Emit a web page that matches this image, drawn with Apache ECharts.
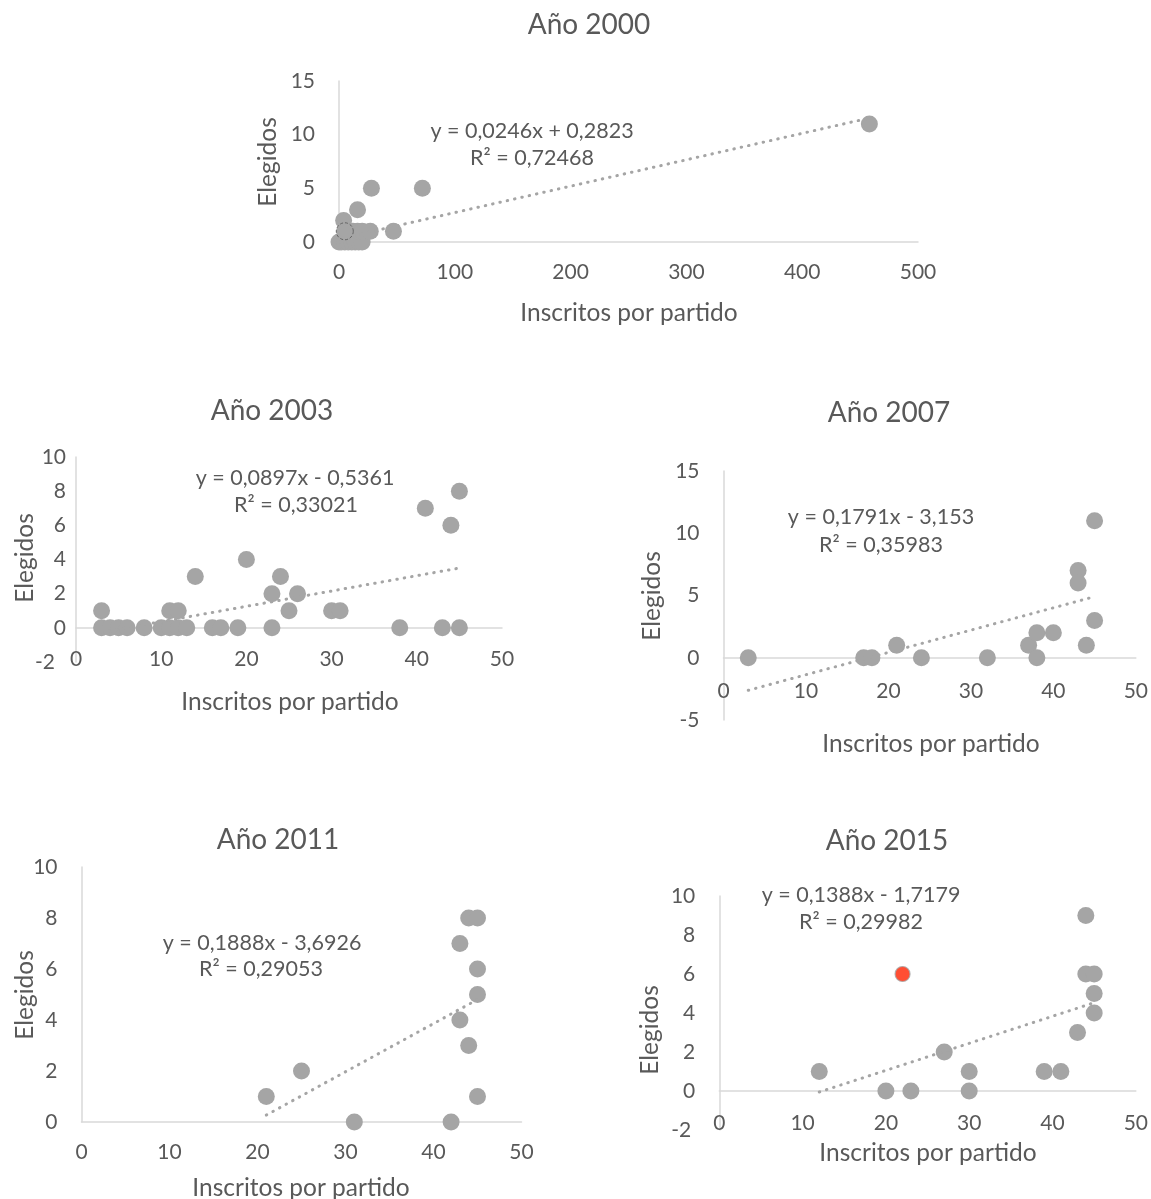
<!DOCTYPE html>
<html>
<head>
<meta charset="utf-8">
<script src="https://cdn.jsdelivr.net/npm/echarts@6/dist/echarts.min.js"></script>
<style>
  html, body { margin: 0; padding: 0; background: #ffffff; }
  #chart { width: 1151px; height: 1199px; }
</style>
</head>
<body>
<div id="chart"></div>
<script>
// Inscritos por partido (x) vs. elegidos (y), one panel per election year
const inscritos2000 = [0, 2, 5, 8, 11, 14, 17, 20, 5, 8, 12, 16, 20, 27, 47, 4, 16, 28, 72, 458];
const elegidos2000  = [0, 0, 0, 0, 0, 0, 0, 0, 1, 1, 1, 1, 1, 1, 1, 2, 3, 5, 5, 11];
const destacado2000 = [5, 1];

const inscritos2003 = [3, 4, 5, 6, 8, 10, 11, 12, 13, 16, 17, 19, 23, 38, 43, 45, 3, 11, 12, 25, 30, 31, 23, 26, 14, 24, 20, 44, 41, 45];
const elegidos2003  = [0, 0, 0, 0, 0, 0, 0, 0, 0, 0, 0, 0, 0, 0, 0, 0, 1, 1, 1, 1, 1, 1, 2, 2, 3, 3, 4, 6, 7, 8];

const inscritos2007 = [3, 17, 18, 21, 24, 32, 37, 38, 38, 40, 43, 43, 44, 45, 45];
const elegidos2007  = [0, 0, 0, 1, 0, 0, 1, 2, 0, 2, 7, 6, 1, 3, 11];

const inscritos2011 = [21, 25, 31, 42, 43, 43, 44, 44, 45, 45, 45, 45];
const elegidos2011  = [1, 2, 0, 0, 4, 7, 3, 8, 8, 6, 5, 1];

const inscritos2015 = [12, 20, 23, 27, 30, 30, 39, 41, 43, 45, 45, 44, 45, 44];
const elegidos2015  = [1, 0, 0, 2, 1, 0, 1, 1, 3, 4, 5, 6, 6, 9];
const destacado2015 = [22, 6];

// Linear trend lines: [slope, intercept, R²]
const tendencia2000 = [0.0246, 0.2823, '0,72468'];
const tendencia2003 = [0.0897, -0.5361, '0,33021'];
const tendencia2007 = [0.1791, -3.153, '0,35983'];
const tendencia2011 = [0.1888, -3.6926, '0,29053'];
const tendencia2015 = [0.1388, -1.7179, '0,29982'];

const ecuaciones = [
  'y = 0,0246x + 0,2823',
  'y = 0,0897x - 0,5361',
  'y = 0,1791x - 3,153',
  'y = 0,1888x - 3,6926',
  'y = 0,1388x - 1,7179'
];
const titulos = ['Año 2000', 'Año 2003', 'Año 2007', 'Año 2011', 'Año 2015'];
const tituloX = 'Inscritos por partido';
const tituloY = 'Elegidos';

// Axis ranges: [xMin, xMax, xStep, yMin, yMax, yStep]
const rangos = [
  [0, 500, 100, 0, 15, 5],
  [0, 50, 10, -2, 10, 2],
  [0, 50, 10, -5, 15, 5],
  [0, 50, 10, 0, 10, 2],
  [0, 50, 10, -2, 10, 2]
];

const FONT = 'Lato, "Open Sans", sans-serif';
const TEXT = '#595959';
const AXIS = '#d9d9d9';
const GRAY = '#a5a5a5';

// Panel layout (pixels); xMargin places the tick labels relative to the plot bottom
const panels = [
  { grid: { left: 339, top: 81, width: 579, height: 161 }, yMargin: 24, xMargin: 20, negPad: 0,
    title: [589, 25], xName: [629, 313], yName: [268, 162], eq: [532, 131], r2: [532, 158] },
  { grid: { left: 76, top: 457, width: 426, height: 205 }, yMargin: 10, xMargin: -13, negPad: 11,
    title: [272, 411], xName: [290, 702], yName: [25, 558], eq: [295, 478], r2: [296, 505] },
  { grid: { left: 723.5, top: 471, width: 413.5, height: 249 }, yMargin: 24, xMargin: -39, negPad: 0,
    title: [889, 413], xName: [931, 744], yName: [652, 596], eq: [881, 517], r2: [881, 545] },
  { grid: { left: 81.5, top: 867, width: 440, height: 255 }, yMargin: 24, xMargin: 20, negPad: 0,
    title: [278, 840], xName: [301, 1188], yName: [25, 995], eq: [262, 943], r2: [261, 969] },
  { grid: { left: 719.3, top: 896, width: 417.4, height: 234 }, yMargin: 24, xMargin: -17, negPad: 4,
    title: [887, 841], xName: [928, 1153], yName: [650, 1030], eq: [861, 895], r2: [861, 922] }
];

const datasets = [
  [inscritos2000, elegidos2000, tendencia2000],
  [inscritos2003, elegidos2003, tendencia2003],
  [inscritos2007, elegidos2007, tendencia2007],
  [inscritos2011, elegidos2011, tendencia2011],
  [inscritos2015, elegidos2015, tendencia2015]
];

function pairs(xs, ys) { return xs.map((x, i) => [x, ys[i]]); }

function trendPoints(xs, t, extraX) {
  const all = extraX ? xs.concat([extraX]) : xs;
  const x0 = Math.min(...all), x1 = Math.max(...all);
  return [[x0, t[0] * x0 + t[1]], [x1, t[0] * x1 + t[1]]];
}

function txt(x, y, text, size, rotate) {
  const el = {
    type: 'text', x: x, y: y,
    style: {
      text: text, fill: TEXT, fontSize: size, fontFamily: FONT,
      textAlign: 'center', textVerticalAlign: 'middle', align: 'center', verticalAlign: 'middle'
    }
  };
  if (rotate) el.rotation = Math.PI / 2;
  return el;
}

const grids = [], xAxes = [], yAxes = [], series = [], graphics = [];

panels.forEach((p, i) => {
  const r = rangos[i];
  grids.push(Object.assign({ containLabel: false }, p.grid));
  xAxes.push({
    type: 'value', gridIndex: i, min: r[0], max: r[1], interval: r[2],
    axisLine: { show: true, onZero: true, lineStyle: { color: AXIS, width: 1.5 } },
    axisTick: { show: false }, splitLine: { show: false },
    axisLabel: { color: TEXT, fontSize: 21, fontFamily: FONT, margin: p.xMargin }
  });
  yAxes.push({
    type: 'value', gridIndex: i, min: r[3], max: r[4], interval: r[5],
    axisLine: { show: true, onZero: true, lineStyle: { color: AXIS, width: 1.5 } },
    axisTick: { show: false }, splitLine: { show: false },
    axisLabel: {
      color: TEXT, fontSize: 21, fontFamily: FONT, margin: p.yMargin,
      // negative labels sit a little further left, clear of the x-axis "0"
      formatter: v => (v < 0 ? '{neg|' + v + '}' : String(v)),
      rich: { neg: { color: TEXT, fontSize: 21, fontFamily: FONT, padding: [0, p.negPad, 0, 0] } }
    }
  });

  const d = datasets[i];
  series.push({
    type: 'scatter', xAxisIndex: i, yAxisIndex: i, z: 2,
    data: pairs(d[0], d[1]), symbolSize: 17,
    itemStyle: { color: GRAY, opacity: 1 }, silent: true
  });
  const extra = i === 4 ? destacado2015[0] : null;
  series.push({
    type: 'line', xAxisIndex: i, yAxisIndex: i, z: 3,
    data: trendPoints(d[0], d[2], extra), symbol: 'none', silent: true,
    lineStyle: { color: GRAY, width: 3, type: [0.5, 7], cap: 'round' }
  });

  graphics.push(txt(p.title[0], p.title[1], titulos[i], 28));
  graphics.push(txt(p.xName[0], p.xName[1], tituloX, 24.5));
  graphics.push(txt(p.yName[0], p.yName[1], tituloY, 24.5, true));
  graphics.push(txt(p.eq[0], p.eq[1], ecuaciones[i], 21.5));
  graphics.push(txt(p.r2[0], p.r2[1], 'R² = ' + d[2][2], 21.5));
});

// Marked points
series.push({
  type: 'scatter', xAxisIndex: 0, yAxisIndex: 0, z: 4, silent: true,
  data: [destacado2000], symbolSize: 17,
  itemStyle: { color: GRAY, borderColor: '#555555', borderWidth: 1, borderType: [3, 2] }
});
series.push({
  type: 'scatter', xAxisIndex: 4, yAxisIndex: 4, z: 4, silent: true,
  data: [destacado2015], symbolSize: 15,
  itemStyle: { color: '#ff2200', borderColor: GRAY, borderWidth: 1.2 }
});

const chart = echarts.init(document.getElementById('chart'), null, { renderer: 'canvas' });
chart.setOption({
  animation: false,
  backgroundColor: '#ffffff',
  grid: grids,
  xAxis: xAxes,
  yAxis: yAxes,
  series: series,
  graphic: { elements: graphics }
});
</script>
</body>
</html>
